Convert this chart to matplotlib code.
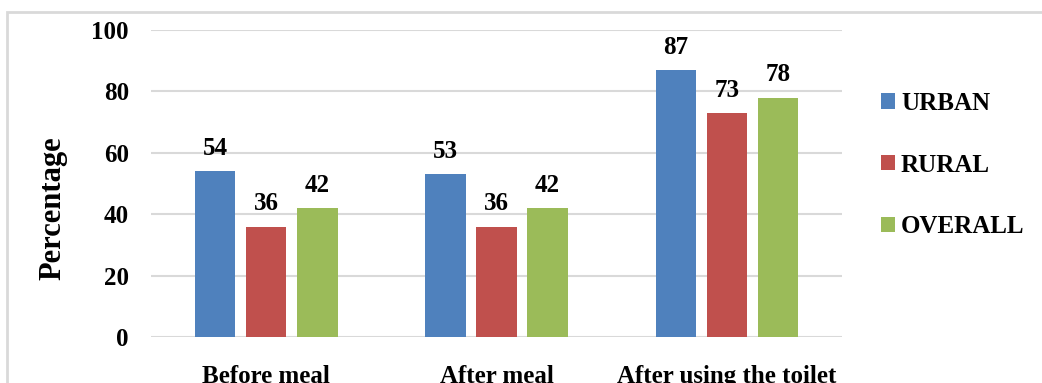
import matplotlib.pyplot as plt
import matplotlib.patches as patches
import numpy as np

categories = ["Before meal", "After meal", "After using the toilet"]
urban = [54, 53, 87]
rural = [36, 36, 73]
overall = [42, 42, 78]
series_names = ["URBAN", "RURAL", "OVERALL"]
colors = ["#4F81BD", "#C0504D", "#9BBB59"]

plt.rcParams['font.family'] = ['Liberation Serif', 'DejaVu Serif']
plt.rcParams['font.weight'] = 'bold'

fig = plt.figure(figsize=(10.42, 3.83), dpi=100)
ax = fig.add_axes([0.145, 0.12, 0.663, 0.8017])

# light gray frame round the chart (cut off at right/bottom like the source)
fig.patches.append(patches.Rectangle((7 / 1042, -0.2), 1.5, 1.2 - 12 / 383,
                                     transform=fig.transFigure, fill=False,
                                     edgecolor="#D9D9D9", linewidth=2))

x = np.arange(len(categories))
width = 0.175
step = 0.222
for i, (vals, name, c) in enumerate(zip([urban, rural, overall], series_names, colors)):
    bars = ax.bar(x + (i - 1) * step, vals, width, color=c, label=name, zorder=3)
    for b, v in zip(bars, vals):
        ax.annotate(str(v), (b.get_x() + b.get_width() / 2, v), xytext=(0, 8),
                    textcoords="offset points", ha="center", va="bottom",
                    fontsize=18, fontweight="bold")

ax.set_ylim(0, 100)
ax.set_xlim(-0.5, 2.5)
ax.set_yticks(range(0, 101, 20))
ax.yaxis.grid(True, color="#D9D9D9", linewidth=1.5, zorder=0)
ax.set_axisbelow(True)
for s in ax.spines.values():
    s.set_visible(False)
ax.tick_params(length=0)
ax.tick_params(axis="y", labelsize=18, pad=16)
ax.tick_params(axis="x", labelsize=18, pad=20)
ax.set_xticks(x)
ax.set_xticklabels(categories, fontweight="bold")
ax.set_ylabel("Percentage", fontsize=22, fontweight="bold")
ax.yaxis.set_label_coords(-0.121, 0.42)

fig.legend(loc="center left", bbox_to_anchor=(0.8455, 0.569), frameon=False,
           fontsize=18, handlelength=0.55, handleheight=0.55, handletextpad=0.25,
           labelspacing=1.55, borderpad=0, borderaxespad=0)

fig.savefig("out.png", dpi=100)
